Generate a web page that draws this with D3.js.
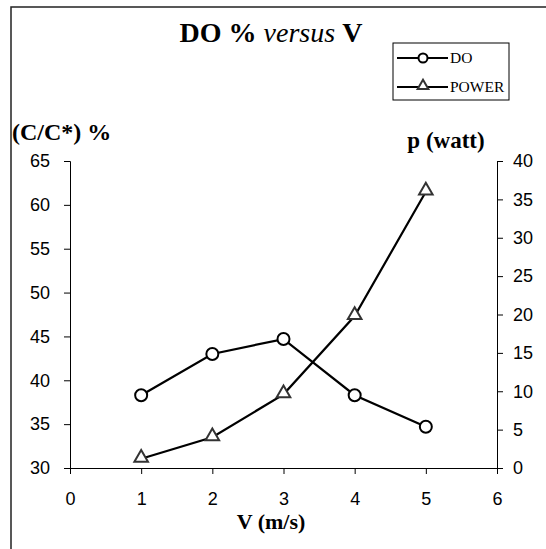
<!DOCTYPE html>
<html><head><meta charset="utf-8">
<script src="https://cdn.jsdelivr.net/npm/d3@7"></script>
<style>body{margin:0;background:#fff}svg{display:block}</style>
</head><body>
<script>
const velocities = [1, 2, 3, 4, 5];
const doValues = [38.3, 43.0, 44.7, 38.3, 34.7];
const powerValues = [1.2, 4.0, 9.6, 19.8, 36.0];
const xTicks = [0, 1, 2, 3, 4, 5, 6];
const leftTicks = [30, 35, 40, 45, 50, 55, 60, 65];
const rightTicks = [0, 5, 10, 15, 20, 25, 30, 35, 40];

const W = 546, H = 549;
const svg = d3.select("body").append("svg").attr("width", W).attr("height", H);
svg.append("rect").attr("width", W).attr("height", H).attr("fill", "#fff");

// frame (only left and top visible)
svg.append("path").attr("d", `M11,${H} L11,7 L${W},7`).attr("fill", "none")
  .attr("stroke", "#222").attr("stroke-width", 1.5);

const x = d3.scaleLinear().domain([0, 6]).range([70, 497]);
const yL = d3.scaleLinear().domain([30, 65]).range([468, 161]);
const yR = d3.scaleLinear().domain([0, 40]).range([468, 161]);

const tickFont = "'Liberation Sans', Arial, sans-serif";
function styleAxis(g) {
  g.selectAll("path").attr("stroke", "#000").attr("stroke-width", 1);
  g.selectAll("line").attr("stroke", "#000").attr("stroke-width", 1);
  g.selectAll("text").style("font-family", tickFont).style("font-size", "18px").attr("fill", "#000");
}

const gx = svg.append("g").attr("transform", "translate(0,468)")
  .call(d3.axisBottom(x).tickValues(xTicks).tickFormat(d3.format("d")).tickSizeOuter(0).tickSize(6).tickPadding(18));
styleAxis(gx);
const gl = svg.append("g").attr("transform", "translate(70,0)")
  .call(d3.axisLeft(yL).tickValues(leftTicks).tickFormat(d3.format("d")).tickSizeOuter(0).tickSize(6).tickPadding(14));
styleAxis(gl);
const gr = svg.append("g").attr("transform", "translate(497,0)")
  .call(d3.axisRight(yR).tickValues(rightTicks).tickFormat(d3.format("d")).tickSizeOuter(0).tickSize(6).tickPadding(10));
styleAxis(gr);

const doData = velocities.map((v, i) => [v, doValues[i]]);
const pData = velocities.map((v, i) => [v, powerValues[i]]);

svg.append("path").datum(doData).attr("fill", "none").attr("stroke", "#000").attr("stroke-width", 2.2)
  .attr("d", d3.line().x(d => x(d[0])).y(d => yL(d[1])));
svg.append("path").datum(pData).attr("fill", "none").attr("stroke", "#000").attr("stroke-width", 2.2)
  .attr("d", d3.line().x(d => x(d[0])).y(d => yR(d[1])));

const tri = d3.symbol().type(d3.symbolTriangle).size(80);
svg.selectAll(".dom").data(doData).join("circle")
  .attr("cx", d => x(d[0])).attr("cy", d => yL(d[1])).attr("r", 6)
  .attr("fill", "#fff").attr("stroke", "#000").attr("stroke-width", 2);
svg.selectAll(".pm").data(pData).join("path")
  .attr("transform", d => `translate(${x(d[0])},${yR(d[1]) - 1})`).attr("d", tri)
  .attr("fill", "#fff").attr("stroke", "#333").attr("stroke-width", 2);

const serif = "'Liberation Serif', 'Times New Roman', 'DejaVu Serif', serif";
function st(sel, size, weight, styleV) {
  sel.style("font-family", serif).style("font-size", size + "px");
  if (weight) sel.style("font-weight", weight);
  if (styleV) sel.style("font-style", styleV);
  return sel;
}
// title
const title = st(svg.append("text").attr("x", 271).attr("y", 42).attr("text-anchor", "middle").attr("fill", "#000"), 28);
st(title.append("tspan"), 28, "bold").text("DO % ");
st(title.append("tspan"), 28, "normal", "italic").text("versus ");
st(title.append("tspan"), 28, "bold").text("V");

// axis titles
st(svg.append("text").attr("x", 12).attr("y", 140), 24, "bold").text("(C/C*) %");
st(svg.append("text").attr("x", 446).attr("y", 148).attr("text-anchor", "middle"), 23, "bold").text("p (watt)");
st(svg.append("text").attr("x", 271).attr("y", 529).attr("text-anchor", "middle"), 22, "bold").text("V (m/s)");

// legend
const lg = svg.append("g");
lg.append("rect").attr("x", 393).attr("y", 43).attr("width", 116).attr("height", 57)
  .attr("fill", "#fff").attr("stroke", "#000").attr("stroke-width", 1);
const legendItems = [{name: "DO", y: 58, kind: "circle"}, {name: "POWER", y: 87, kind: "tri"}];
legendItems.forEach(it => {
  lg.append("line").attr("x1", 397).attr("x2", 448).attr("y1", it.y).attr("y2", it.y)
    .attr("stroke", "#000").attr("stroke-width", 2);
  if (it.kind === "circle") {
    lg.append("circle").attr("cx", 423).attr("cy", it.y).attr("r", 4.5).attr("fill", "#fff")
      .attr("stroke", "#000").attr("stroke-width", 2);
  } else {
    lg.append("path").attr("transform", `translate(423,${it.y - 1})`)
      .attr("d", d3.symbol().type(d3.symbolTriangle).size(50)).attr("fill", "#fff")
      .attr("stroke", "#333").attr("stroke-width", 2);
  }
  st(lg.append("text").attr("x", 450).attr("y", it.y + 5).attr("fill", "#000"), 15.5).text(it.name);
});
</script>
</body></html>
